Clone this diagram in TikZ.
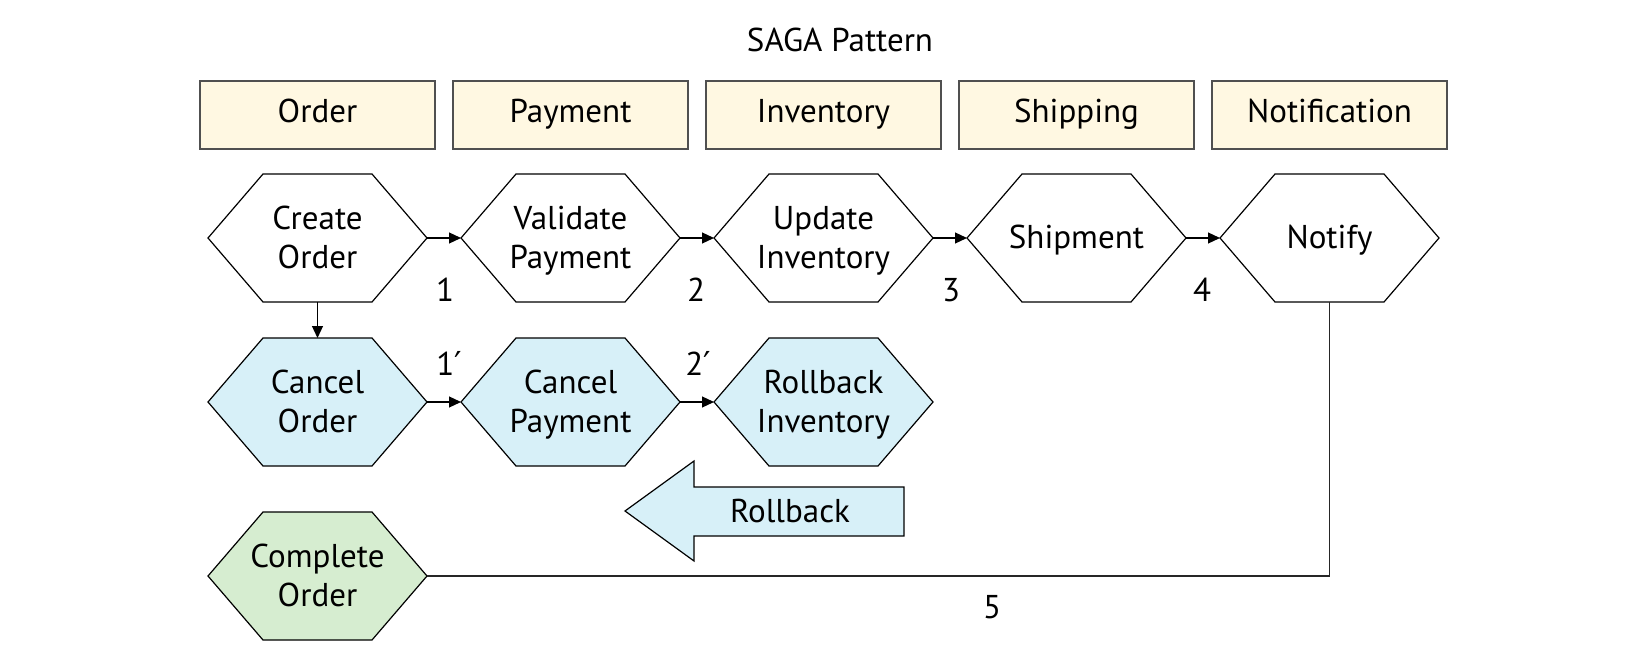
\documentclass[tikz,border=0pt]{standalone}
\usepackage{fontspec}
\setmainfont{PT Sans}
\newfontfamily\primefont{DejaVu Sans}
\usetikzlibrary{arrows.meta}
\definecolor{hdrfill}{HTML}{FFF8E2}
\definecolor{hdrline}{HTML}{505050}
\definecolor{bluefill}{HTML}{D7F0F8}
\definecolor{greenfill}{HTML}{D6EDD0}
\newcommand\hs{\rule[-8.4pt]{0pt}{38.4pt}}
\tikzset{
  hdr/.style={draw=hdrline, line width=1.4pt, fill=hdrfill, minimum width=235pt, minimum height=68pt, inner sep=0pt, font=\fontsize{33}{39}\selectfont},
  hexa/.style={minimum width=221pt, minimum height=130pt, inner sep=0pt, outer sep=-1pt, align=center, font=\fontsize{33}{39}\selectfont,
    path picture={\draw[line width=1.2pt, fill=#1]
      ([xshift=1pt]path picture bounding box.west)
      -- ([xshift=56pt,yshift=-1pt]path picture bounding box.north west)
      -- ([xshift=-56pt,yshift=-1pt]path picture bounding box.north east)
      -- ([xshift=-1pt]path picture bounding box.east)
      -- ([xshift=-56pt,yshift=1pt]path picture bounding box.south east)
      -- ([xshift=56pt,yshift=1pt]path picture bounding box.south west) -- cycle;}},
  hexa/.default=white,
  conn/.style={line width=1.2pt, -{Triangle[length=12pt,width=11pt]}},
  plainline/.style={line width=1.7pt, draw=black!85},
  lbl/.style={font=\fontsize{33}{39}\selectfont, inner sep=0pt},
}
\begin{document}
\begin{tikzpicture}[x=1pt,y=-1pt]
\useasboundingbox (0,0) rectangle (1650,663);
\node[lbl] (title) at (840,44) {SAGA Pattern\strut};
% headers
\node[hdr] (hOrder) at (317.5,115) {Order\strut};
\node[hdr] (hPay) at (570.5,115) {Payment\strut};
\node[hdr] (hInv) at (823.5,115) {Inventory\strut};
\node[hdr] (hShip) at (1076.5,115) {Shipping\strut};
\node[hdr] (hNote) at (1329.5,115) {Notification\strut};
% row 1
\node[hexa] (create) at (317.5,238) {Create\hs\\Order\hs};
\node[hexa] (validate) at (570.5,238) {Validate\hs\\Payment\hs};
\node[hexa] (update) at (823.5,238) {Update\hs\\Inventory\hs};
\node[hexa] (ship) at (1076.5,238) {Shipment\hs};
\node[hexa] (notify) at (1329.5,238) {Notify\hs};
% row 2
\node[hexa=bluefill] (cancelorder) at (317.5,402) {Cancel\hs\\Order\hs};
\node[hexa=bluefill] (cancelpay) at (570.5,402) {Cancel\hs\\Payment\hs};
\node[hexa=bluefill] (rollinv) at (823.5,402) {Rollback\hs\\Inventory\hs};
% row 3
\node[hexa=greenfill] (complete) at (317.5,576) {Complete\hs\\Order\hs};
% rollback arrow
\draw[line width=1.2pt, fill=bluefill] (625,511) -- (694,461) -- (694,487) -- (904,487) -- (904,536) -- (694,536) -- (694,561) -- cycle;
\node[lbl] (rollback) at (790,515) {Rollback\strut};
% connectors
\draw[conn] (create) -- (validate);
\draw[conn] (validate) -- (update);
\draw[conn] (update) -- (ship);
\draw[conn] (ship) -- (notify);
\draw[conn] (create) -- (cancelorder);
\draw[conn] (cancelorder) -- (cancelpay);
\draw[conn] (cancelpay) -- (rollinv);
\draw[plainline] (notify.south) |- (complete.east);
% labels
\node[lbl] (l1) at (445,290) {1};
\node[lbl] (l2) at (696,290) {2};
\node[lbl] (l3) at (951,290) {3};
\node[lbl] (l4) at (1202,290) {4};
\node[lbl] (l1p) at (449,363) {1{\primefont ′}};
\node[lbl] (l2p) at (698,363) {2{\primefont ′}};
\node[lbl] (l5) at (992,607) {5};
\end{tikzpicture}
\end{document}
